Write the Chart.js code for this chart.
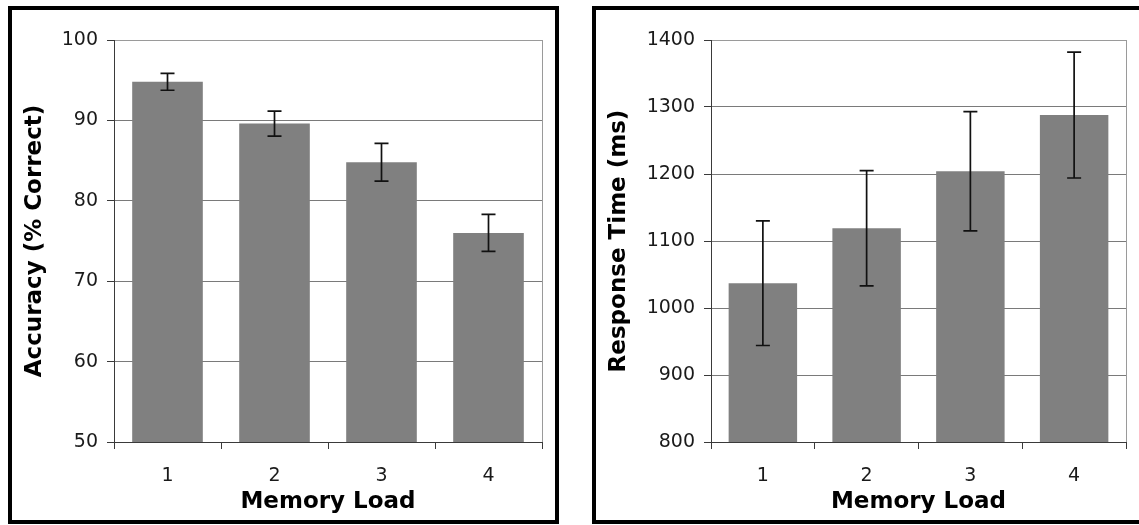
<!DOCTYPE html>
<html>
<head>
<meta charset="utf-8">
<script src="https://cdn.jsdelivr.net/npm/chart.js@4.4.1/dist/chart.umd.min.js"></script>
<style>
    html, body { margin: 0; padding: 0; background: #fff; }
    body { width: 1139px; height: 525px; position: relative; overflow: hidden; }
    .panel {
        position: absolute;
        top: 6px;
        width: 543px;
        height: 510px;
        border: 4px solid #000;
        background: #fff;
    }
    #panel-left { left: 8px; }
    #panel-right { left: 592px; }
    canvas { display: block; }
</style>
</head>
<body>
<div class="panel" id="panel-left"><canvas id="accuracy-bar" width="543" height="510"></canvas></div>
<div class="panel" id="panel-right"><canvas id="rt-bar" width="543" height="510"></canvas></div>

<script>
// Values
const memory_load = ["1", "2", "3", "4"];

const accuracy = [94.8, 89.6, 84.8, 76.0];
const accuracy_err = [1.05, 1.55, 2.35, 2.3];
const accuracy_ticks = [50, 60, 70, 80, 90, 100];

const response_time = [1037, 1119, 1204, 1288];
const response_time_err = [93, 86, 89, 94];
const response_time_ticks = [800, 900, 1000, 1100, 1200, 1300, 1400];

const bar_colour = "#808080";
const grid_colour = "#7a7a7a";
const frame_colour = "#9a9a9a";
const axis_colour = "#3a3a3a";

// error bars drawn from the dataset's "errors" array through the y scale
const errorBars = {
    id: "errorBars",
    afterDatasetsDraw(chart) {
        const ctx = chart.ctx;
        const y_scale = chart.scales.y;
        const dataset = chart.data.datasets[0];
        const meta = chart.getDatasetMeta(0);
        ctx.save();
        ctx.strokeStyle = "#111";
        ctx.lineWidth = 1.7;
        for (let i = 0; i < meta.data.length; i ++) {
            const x = meta.data[i].x;
            const hi = y_scale.getPixelForValue(dataset.data[i] + dataset.errors[i]);
            const lo = y_scale.getPixelForValue(dataset.data[i] - dataset.errors[i]);
            ctx.beginPath();
            ctx.moveTo(x, hi);
            ctx.lineTo(x, lo);
            ctx.moveTo(x - 7, hi);
            ctx.lineTo(x + 7, hi);
            ctx.moveTo(x - 7, lo);
            ctx.lineTo(x + 7, lo);
            ctx.stroke();
        }
        ctx.restore();
    }
};

function makeChart(canvas_id, values, errors, tick_values, y_title, y_width) {
    const ctx = document.getElementById(canvas_id).getContext("2d");
    return new Chart(ctx, {
        type: "bar",
        data: {
            labels: memory_load,
            datasets: [{
                data: values,
                errors: errors,
                backgroundColor: bar_colour,
                borderWidth: 0,
                categoryPercentage: 1,
                barPercentage: 0.66
            }]
        },
        options: {
            responsive: false,
            devicePixelRatio: 1,
            animation: false,
            events: [],
            layout: {
                padding: { top: 30, right: 13, left: 0, bottom: 0 }
            },
            plugins: {
                legend: { display: false },
                tooltip: { enabled: false }
            },
            scales: {
                x: {
                    afterFit: (scale) => { scale.height = 78; },
                    grid: {
                        offset: true,
                        // only the right frame line shows inside the plot
                        color: (c) => c.type === "tick" ? "rgba(0,0,0,0)" : frame_colour,
                        tickColor: axis_colour,
                        tickLength: 7,
                        lineWidth: 1
                    },
                    border: { display: true, color: axis_colour, width: 1 },
                    ticks: {
                        color: "#1a1a1a",
                        padding: 16,
                        font: { family: "DejaVu Sans", size: 19 }
                    },
                    title: {
                        display: true,
                        text: "Memory Load",
                        color: "#000",
                        padding: { top: 0, bottom: 6 },
                        font: { family: "DejaVu Sans", size: 23, weight: "bold", lineHeight: 1 }
                    }
                },
                y: {
                    min: tick_values[0],
                    max: tick_values[tick_values.length - 1],
                    afterFit: (scale) => { scale.width = y_width; },
                    afterBuildTicks: (scale) => {
                        scale.ticks = tick_values.map(v => ({ value: v }));
                    },
                    grid: {
                        color: (c) => c.index === tick_values.length - 1 ? frame_colour : grid_colour,
                        tickColor: axis_colour,
                        tickLength: 7,
                        lineWidth: 1
                    },
                    border: { display: true, color: axis_colour, width: 1 },
                    ticks: {
                        color: "#1a1a1a",
                        padding: 9,
                        font: { family: "DejaVu Sans", size: 19 },
                        callback: (value) => String(value)
                    },
                    title: {
                        display: true,
                        text: y_title,
                        color: "#000",
                        padding: { top: 12, bottom: 0 },
                        font: { family: "DejaVu Sans", size: 23, weight: "bold", lineHeight: 1 }
                    }
                }
            }
        },
        plugins: [errorBars]
    });
}

window.addEventListener("DOMContentLoaded", () => {
    makeChart("accuracy-bar", accuracy, accuracy_err, accuracy_ticks, "Accuracy (% Correct)", 102);
    makeChart("rt-bar", response_time, response_time_err, response_time_ticks, "Response Time (ms)", 115);
});
</script>
</body>
</html>
